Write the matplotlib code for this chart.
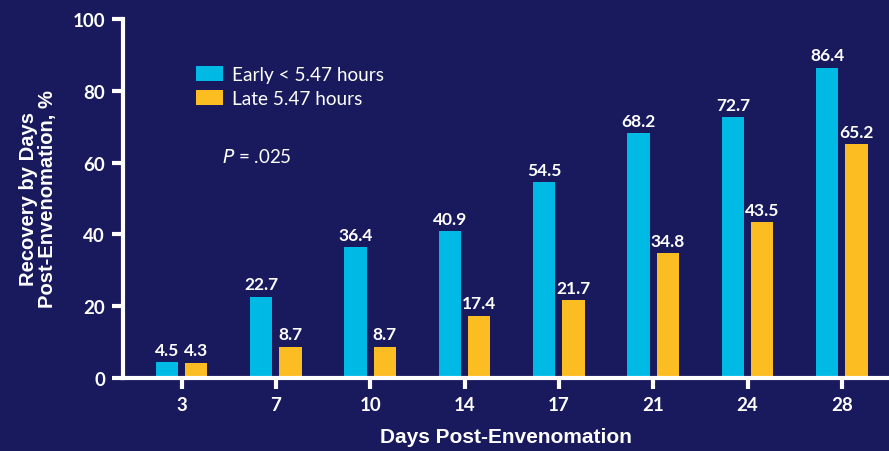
import numpy as np
import matplotlib.pyplot as plt

days = ['3', '7', '10', '14', '17', '21', '24', '28']
early = [4.5, 22.7, 36.4, 40.9, 54.5, 68.2, 72.7, 86.4]
late = [4.3, 8.7, 8.7, 17.4, 21.7, 34.8, 43.5, 65.2]

bg = '#19195e'
cyan = '#00bae6'
yellow = '#fcbd23'

fig = plt.figure(figsize=(8.89, 4.52), dpi=100, facecolor=bg)
ax = fig.add_axes([0.1384, 0.1615, 0.8616, 0.7943], facecolor=bg)

x = np.arange(len(days))
w = 0.235
off = 0.155
b1 = ax.bar(x - off, early, w, color=cyan, label='Early < 5.47 hours')
b2 = ax.bar(x + off, late, w, color=yellow, label='Late 5.47 hours')

# value labels on top of each bar
for bars, vals in ((b1, early), (b2, late)):
    for r, v in zip(bars, vals):
        ax.text(r.get_x() + r.get_width() / 2, v + 1.2, '%.1f' % v,
                ha='center', va='bottom', color='white', fontsize=12.5,
                fontweight='bold', family='Lato')

ax.set_xlim(-0.62, 7.5)
ax.set_ylim(0, 100)
ax.set_yticks([0, 20, 40, 60, 80, 100])
ax.set_xticks(x)
ax.set_xticklabels(days)

for s in ['top', 'right']:
    ax.spines[s].set_visible(False)
for s in ['left', 'bottom']:
    ax.spines[s].set_color('white')
    ax.spines[s].set_linewidth(3)
ax.spines['bottom'].set_zorder(5)

ax.tick_params(colors='white', width=3, length=8, labelsize=13.5, pad=5)
for lab in ax.get_xticklabels() + ax.get_yticklabels():
    lab.set_fontweight('bold')
    lab.set_family('Lato')

ax.set_xlabel('Days Post-Envenomation', color='white', fontsize=15,
              fontweight='bold', family='Liberation Sans', labelpad=10)
ax.set_ylabel('Recovery by Days\nPost-Envenomation, %', color='white',
              fontsize=14.5, fontweight='bold', family='Liberation Sans',
              labelpad=11, linespacing=1.0)

leg = ax.legend(loc='upper left', bbox_to_anchor=(0.0953, 0.868), frameon=False,
                prop={'family': 'Lato', 'size': 13.7}, handlelength=1.4,
                handleheight=0.8, handletextpad=0.5, labelspacing=0.35,
                borderpad=0, borderaxespad=0)
for t in leg.get_texts():
    t.set_color('white')

ax.text(0.129, 0.618, r'$\it{P}$ = .025', transform=ax.transAxes, color='white',
        fontsize=13.5, family='Lato', va='center')

fig.savefig('out.png', dpi=100, facecolor=bg)
